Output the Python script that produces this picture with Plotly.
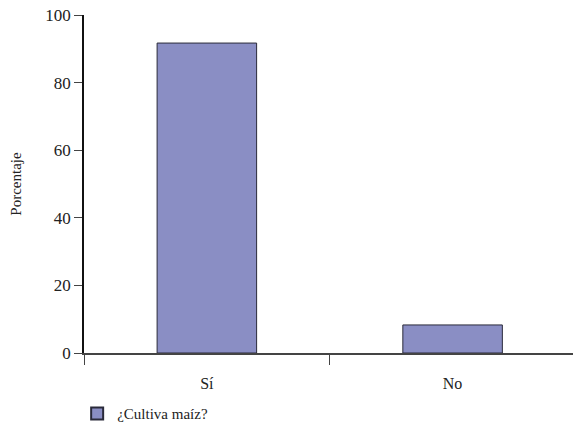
import plotly.graph_objects as go

categories = ["Sí", "No"]
values = [91.7, 8.3]
series_name = "¿Cultiva maíz?"
y_ticks = [0, 20, 40, 60, 80, 100]

font_family = "Liberation Serif"

fig = go.Figure()
fig.add_trace(go.Bar(
    x=categories, y=values, name=series_name,
    marker=dict(color="#8a8ec4", line=dict(color="#2a2a3a", width=1)),
    width=0.405, showlegend=True,
))

fig.update_layout(
    width=573, height=430,
    margin=dict(l=84, r=0, t=15, b=77, autoexpand=False),
    paper_bgcolor="white", plot_bgcolor="white",
    font=dict(family=font_family, size=15, color="#222"),
    showlegend=True,
    legend=dict(x=-0.014, y=-0.18, xanchor="left", yanchor="middle",
                font=dict(family=font_family, size=15), bgcolor="rgba(0,0,0,0)",
                itemsizing="constant"),
)
fig.update_xaxes(
    type="category", range=[-0.5, 1.49],
    showline=True, linecolor="#444", linewidth=1.5,
    ticks="outside", ticklen=10, tickcolor="#444", tickwidth=1,
    tickson="boundaries", showgrid=False, automargin=False,
    tickfont=dict(family=font_family, size=16),
    ticklabelstandoff=15,
)
fig.update_yaxes(
    range=[0, 100], tickvals=y_ticks,
    showline=True, linecolor="#111", linewidth=1.5,
    ticks="outside", ticklen=8, tickcolor="#444",
    showgrid=False, zeroline=False, automargin=False,
    tickfont=dict(family=font_family, size=17),
    title=dict(text="Porcentaje", font=dict(family=font_family, size=15), standoff=20),
)

fig.write_html("out.html", config={"displayModeBar": False},
               post_script="document.body.style.margin='0';")
